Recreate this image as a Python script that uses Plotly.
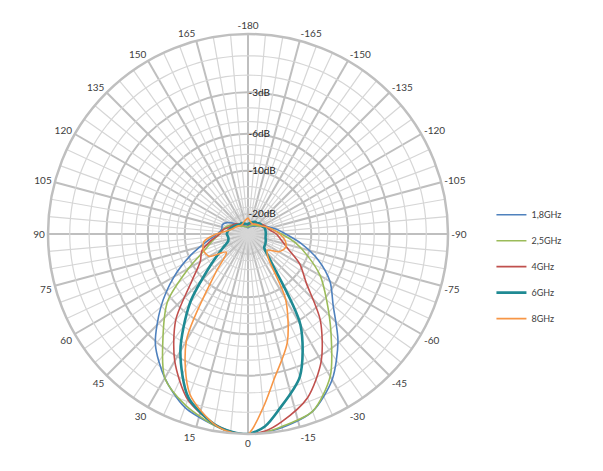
import plotly.graph_objects as go

# ---------------- data (dB, relative) ----------------
theta = [-180, -170, -160, -150, -140, -130, -120, -110, -100, -90, -80, -70, -60, -50, -40, -30, -20, -10, -5,
         0, 5, 10, 20, 30, 40, 50, 60, 70, 80, 90, 100, 110, 120, 130, 140, 150, 160, 170]

db_1_8 = [-30, -29, -28, -27, -26, -24, -22, -19.5, -17, -14.5, -11.4, -8.6, -6.5, -5.1, -3.1, -1.5, -0.5, -0.15, -0.05,
          0, -0.05, -0.25, -0.7, -1.6, -2.85, -4.9, -7.4, -10.4, -13.6, -16.3, -17.5, -17.3, -18.8, -22, -25, -27, -28, -29]
db_2_5 = [-29, -28, -27, -26, -25, -24, -22, -20, -18, -15.5, -12.5, -10, -7.6, -5.8, -3.8, -1.7, -0.5, -0.2, -0.05,
          0, -0.05, -0.25, -0.8, -1.6, -3.6, -5.6, -9.3, -12.8, -15, -17, -18, -19, -21, -24, -26, -27, -28, -29]
db_4 = [-27, -26, -25, -24, -23, -22, -21, -20, -19, -17, -15.5, -13.5, -10.5, -8.4, -5.0, -2.7, -1.2, -0.4, -0.1,
        0, -0.08, -0.3, -1.1, -2.7, -5.0, -8.7, -11.2, -12.2, -14.5, -17, -18, -20, -21, -22, -24, -25, -26, -26]
db_6 = [-26, -25, -24, -23, -23, -22, -22, -21, -21, -21, -21, -20.5, -20, -19.5, -15, -5.6, -2.4, -1.0, -0.3,
        0, -0.08, -0.3, -1.2, -3.4, -6.9, -12.2, -16.5, -19.5, -20, -19.5, -20, -21, -22, -23, -24, -24, -25, -26]
db_8 = [-22, -24, -25, -25, -24, -23, -22, -20, -18, -16, -14.5, -14, -15, -18, -16, -8.5, -4.8, -2.6, -1.2,
        0, -0.05, -0.3, -1.4, -4.2, -12, -17, -13, -12.5, -13, -16, -20, -22, -23, -24, -25, -25, -24, -23]

series_names = ['1,8GHz', '2,5GHz', '4GHz', '6GHz', '8GHz']
series_db = [db_1_8, db_2_5, db_4, db_6, db_8]

major_db = [-3, -6, -10, -20]
major_labels = ['-3dB', '-6dB', '-10dB', '-20dB']
minor_db = [-1, -2, -4, -5, -7, -8, -9, -12.5, -15, -17.5, -30]

ang_ticks = list(range(0, 360, 15))
ang_labels = [str(a if a <= 165 else a - 360) for a in ang_ticks]

# ---------------- styles ----------------
colors = ['#4F81BD', '#9BBB59', '#C0504D', '#1F8A93', '#F79646']
widths = [1.6, 1.6, 1.6, 2.6, 1.6]
major_grid = '#BFBFBF'
minor_grid = '#D6D6D6'
text_color = '#404040'
font_family = 'Lato, Open Sans, sans-serif'


def amp(db):
    return 10 ** (db / 20.0)


fig = go.Figure()

# minor rings
ring_t, ring_r = [], []
for d in minor_db:
    for a in range(0, 361, 2):
        ring_t.append(a)
        ring_r.append(amp(d))
    ring_t.append(None)
    ring_r.append(None)
fig.add_trace(go.Scatterpolar(r=ring_r, theta=ring_t, mode='lines',
                              line=dict(color=minor_grid, width=1.2),
                              showlegend=False, hoverinfo='skip'))

# minor spokes
sp_t, sp_r = [], []
for a in range(0, 360, 5):
    if a % 15:
        sp_t += [a, a, None]
        sp_r += [0, 1, None]
fig.add_trace(go.Scatterpolar(r=sp_r, theta=sp_t, mode='lines',
                              line=dict(color=minor_grid, width=1.2),
                              showlegend=False, hoverinfo='skip'))

for i, (name, dbs) in enumerate(zip(series_names, series_db)):
    t = theta + [theta[0] + 360]
    r = [amp(v) for v in dbs] + [amp(dbs[0])]
    fig.add_trace(go.Scatterpolar(r=r, theta=t, mode='lines', name=name,
                                  legendgroup=name,
                                  line=dict(color=colors[i], width=widths[i], shape='spline', smoothing=0.8)))

fig.update_layout(
    width=603, height=471,
    margin=dict(l=0, r=0, t=0, b=0),
    paper_bgcolor='white',
    font=dict(family=font_family, color=text_color, size=10),
    polar=dict(
        domain=dict(x=[48 / 603, 448 / 603], y=[37 / 471, 437 / 471]),
        bgcolor='white',
        angularaxis=dict(rotation=270, direction='clockwise',
                         tickmode='array', tickvals=ang_ticks, ticktext=ang_labels,
                         showgrid=True, gridcolor=major_grid, gridwidth=2,
                         showline=True, linecolor=major_grid, linewidth=2.5,
                         ticks='', tickfont=dict(size=10, color=text_color)),
        radialaxis=dict(range=[0, 1], tickmode='array',
                        tickvals=[amp(d) for d in major_db], ticktext=major_labels,
                        showline=False, ticks='', angle=90, tickangle=90,
                        showgrid=True, gridcolor=major_grid, gridwidth=2,
                        tickfont=dict(size=10, color='#202020')),
    ),
    legend=dict(x=0.815, y=0.575, xanchor='left', yanchor='top',
                font=dict(size=9, color=text_color), itemwidth=30,
                tracegroupgap=7, bgcolor='rgba(0,0,0,0)'),
    showlegend=True,
)

fig.write_html('out.html')
